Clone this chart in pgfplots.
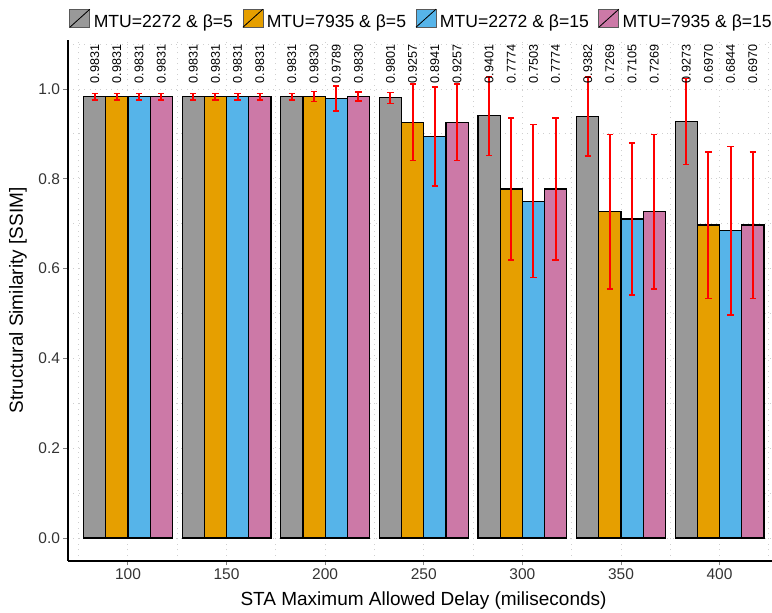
\documentclass[border=0pt]{standalone}
\usepackage{pgfplots}
\pgfplotsset{compat=1.18}
\usepackage{pgfplotstable}
\usepackage{fontspec}
\setmainfont{Liberation Sans}
\definecolor{cgray}{HTML}{999999}
\definecolor{corange}{HTML}{E69F00}
\definecolor{cblue}{HTML}{56B4E9}
\definecolor{cpink}{HTML}{CC79A7}
\definecolor{gridc}{HTML}{CFCFCF}
\definecolor{ered}{HTML}{FF0000}

\pgfplotstableread{
x   a      ea     b      eb     c      ec     d      ed
100 0.9831 0.0073 0.9831 0.0073 0.9831 0.0073 0.9831 0.0073
150 0.9831 0.0073 0.9831 0.0073 0.9831 0.0073 0.9831 0.0073
200 0.9831 0.0073 0.9830 0.0110 0.9789 0.0280 0.9830 0.0100
250 0.9801 0.0120 0.9257 0.0850 0.8941 0.1100 0.9257 0.0850
300 0.9401 0.0880 0.7774 0.1580 0.7503 0.1700 0.7774 0.1580
350 0.9382 0.0880 0.7269 0.1720 0.7105 0.1690 0.7269 0.1720
400 0.9273 0.0960 0.6970 0.1630 0.6844 0.1880 0.6970 0.1630
}\data

\pgfplotsset{
  mybar/.style={forget plot, ybar, bar width=11.25, bar shift=0pt, fill=#1, draw=black, line width=1.2pt},
  myq/.style={forget plot, draw=ered, line width=2pt, -, mark=none},
}
% #1 x offset, #2 value column, #3 error column
\newcommand{\errbars}[3]{%
  \addplot[myq, quiver={u=0, v={2*\thisrow{#3}}}]
    table[x expr=\thisrow{x}+(#1), y expr=\thisrow{#2}-\thisrow{#3}]{\data};
  \addplot[myq, line width=1.5pt, quiver={u=3.2, v=0}]
    table[x expr=\thisrow{x}+(#1)-1.6, y expr=\thisrow{#2}-\thisrow{#3}]{\data};
  \addplot[myq, line width=1.5pt, quiver={u=3.2, v=0}]
    table[x expr=\thisrow{x}+(#1)-1.6, y expr=\thisrow{#2}+\thisrow{#3}]{\data};
}

\begin{document}
\begin{tikzpicture}
\begin{axis}[
  at={(68pt,52pt)}, anchor=south west,
  scale only axis, width=704pt, height=521pt,
  xmin=69.6, xmax=426.6, ymin=-0.051, ymax=1.109,
  axis x line*=bottom, axis y line*=left,
  axis line style={-, line width=1.2pt, black},
  xtick={100,150,200,250,300,350,400},
  ytick={0,0.2,0.4,0.6,0.8,1.0},
  minor xtick={75,125,175,225,275,325,375,425},
  minor ytick={0.1,0.3,0.5,0.7,0.9,1.1},
  grid=both,
  major grid style={gridc, line width=0.9pt, dash pattern=on 0.9pt off 4.5pt},
  minor grid style={gridc, line width=0.9pt, dash pattern=on 0.9pt off 4.5pt},
  tick align=outside, major tick length=4.5pt, minor tick length=0pt,
  tick style={black!50, line width=0.9pt},
  /pgf/number format/assume math mode=true,
  ticklabel style={font=\fontsize{15.5}{18}\selectfont, text=black!80},
  yticklabel style={/pgf/number format/.cd, fixed, fixed zerofill, precision=1},
  xticklabel style={/pgf/number format/.cd, fixed, precision=0},
  xlabel={STA Maximum Allowed Delay (miliseconds)},
  ylabel={Structural Similarity [SSIM]},
  every axis x label/.style={at={(axis description cs:0.505,-0.0858)}, anchor=base, font=\fontsize{19}{22}\selectfont},
  every axis y label/.style={at={(axis description cs:-0.0640,0.5)}, anchor=base, rotate=90, font=\fontsize{19}{22}\selectfont},
  legend columns=4,
  legend style={at={(axis description cs:0.0018,1.0387)}, anchor=west, draw=none, fill=none,
    inner sep=0pt, font=\fontsize{17.6}{20}\selectfont,
    /tikz/every even column/.append style={column sep=7.5pt},
    /tikz/every odd column/.append style={column sep=1.5pt}},
  legend image code/.code={\draw[#1] (0pt,-5.5pt) rectangle (20pt,12.5pt);
     \draw[black, line width=0.8pt] (0pt,-5.5pt) -- (20pt,12.5pt);},
]
\addlegendimage{fill=cgray, draw=black!65, line width=0.8pt}
\addlegendentry{MTU=2272 \& β=5}
\addlegendimage{fill=corange, draw=black!65, line width=0.8pt}
\addlegendentry{MTU=7935 \& β=5}
\addlegendimage{fill=cblue, draw=black!65, line width=0.8pt}
\addlegendentry{MTU=2272 \& β=15}
\addlegendimage{fill=cpink, draw=black!65, line width=0.8pt}
\addlegendentry{MTU=7935 \& β=15}

\addplot[mybar=cgray]   table[x expr=\thisrow{x}-16.875, y=a]{\data};
\addplot[mybar=corange] table[x expr=\thisrow{x}-5.625,  y=b]{\data};
\addplot[mybar=cblue]   table[x expr=\thisrow{x}+5.625,  y=c]{\data};
\addplot[mybar=cpink]   table[x expr=\thisrow{x}+16.875, y=d]{\data};

\errbars{-16.875}{a}{ea}
\errbars{-5.625}{b}{eb}
\errbars{5.625}{c}{ec}
\errbars{16.875}{d}{ed}
\end{axis}

% value labels: tick labels of a second, invisible axis whose top edge lies at y = 1.012
\begin{axis}[
  at={(68pt,52pt)}, anchor=south west,
  scale only axis, width=704pt, height=477.43pt,
  xmin=69.6, xmax=426.6, ymin=0, ymax=1,
  axis x line*=top, axis y line=none,
  axis line style={draw=none},
  ytick=\empty,
  major tick length=0pt, tick style={draw=none},
  xtick={83.125,94.375,105.625,116.875,133.125,144.375,155.625,166.875,
         183.125,194.375,205.625,216.875,233.125,244.375,255.625,266.875,
         283.125,294.375,305.625,316.875,333.125,344.375,355.625,366.875,
         383.125,394.375,405.625,416.875},
  xticklabels={0.9831,0.9831,0.9831,0.9831,0.9831,0.9831,0.9831,0.9831,
               0.9831,0.9830,0.9789,0.9830,0.9801,0.9257,0.8941,0.9257,
               0.9401,0.7774,0.7503,0.7774,0.9382,0.7269,0.7105,0.7269,
               0.9273,0.6970,0.6844,0.6970},
  xticklabel style={rotate=90, anchor=west, inner sep=0pt,
     font=\fontsize{12.6}{14}\selectfont, text=black},
]
\end{axis}
\pgfresetboundingbox
\path[use as bounding box] (0,0) rectangle (772pt,613pt);
\end{tikzpicture}
\end{document}
